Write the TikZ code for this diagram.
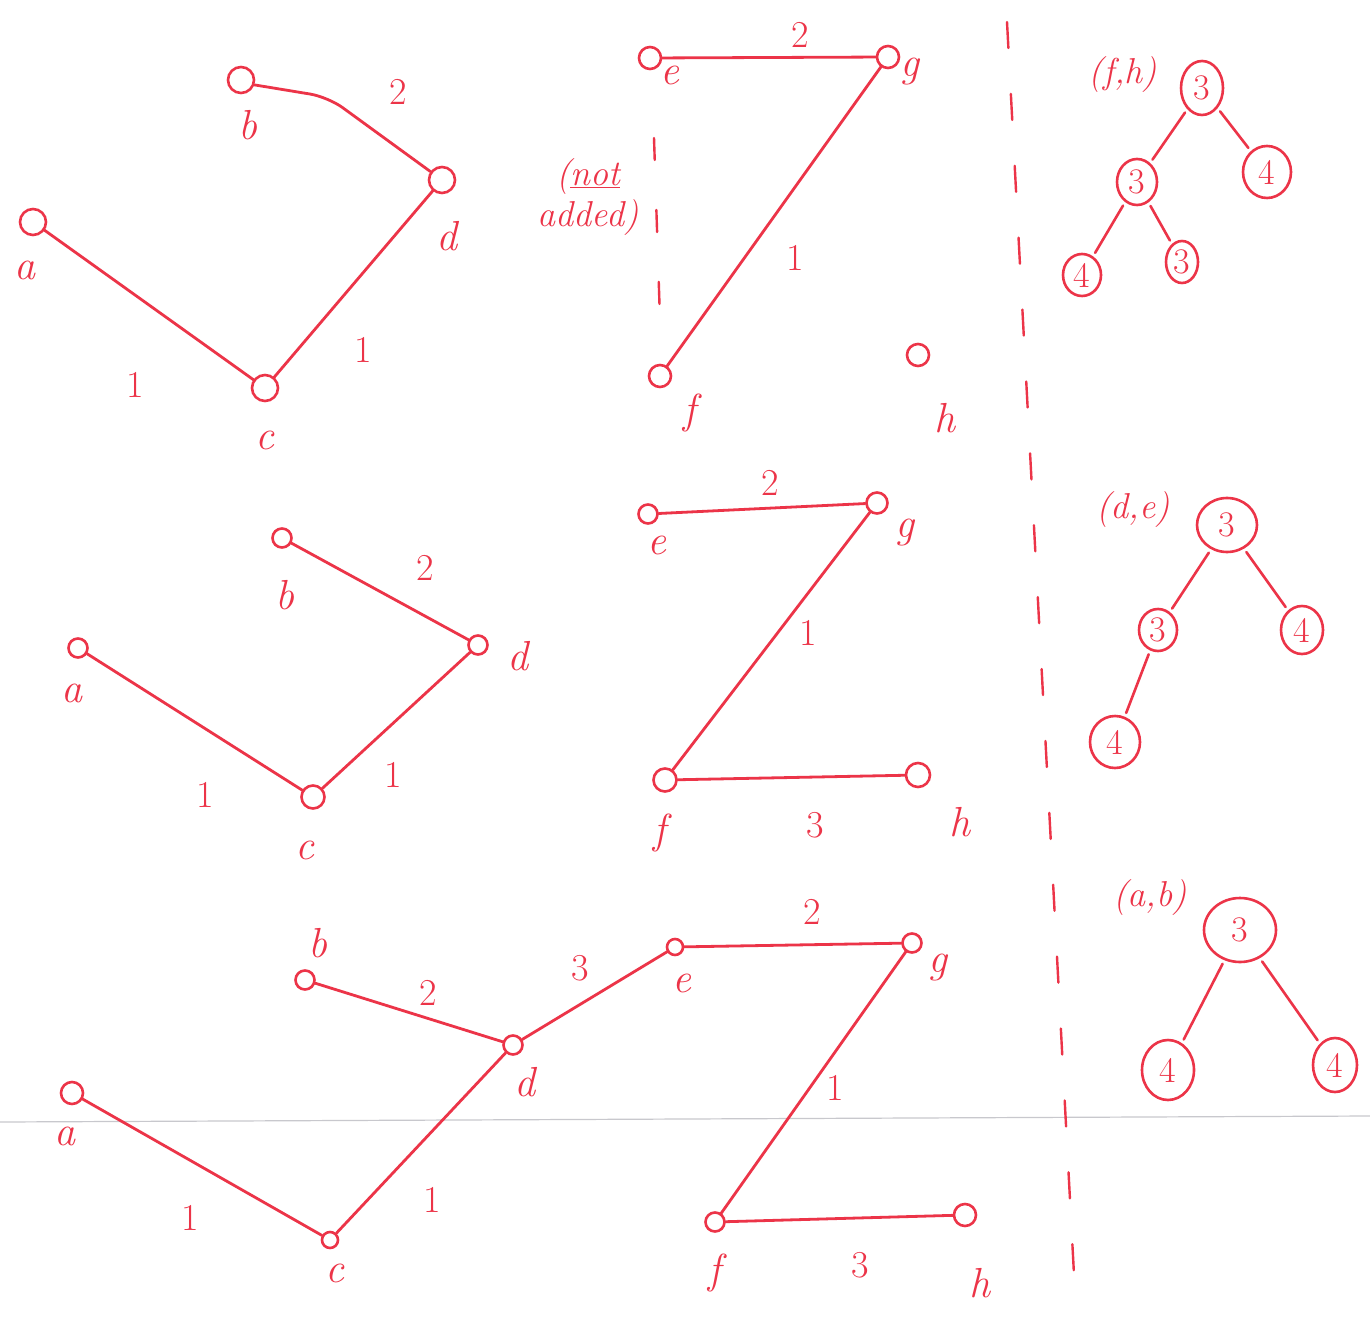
\documentclass[tikz,border=0pt]{standalone}
\usetikzlibrary{shapes.geometric}
\definecolor{inkred}{RGB}{236,52,72}
\definecolor{foldgray}{RGB}{200,200,205}
\tikzset{
  edge/.style={draw=inkred, line width=2.8pt, line cap=round},
  vtx/.style={circle, draw=inkred, line width=2.6pt, minimum size=26pt, inner sep=0pt},
  svtx/.style={circle, draw=inkred, line width=2.6pt, minimum size=19pt, inner sep=0pt},
  lbl/.style={text=inkred, font=\fontsize{42}{42}\selectfont\itshape, inner sep=0pt},
  wt/.style={text=inkred, font=\fontsize{38}{38}\selectfont, inner sep=0pt},
  note/.style={text=inkred, font=\fontsize{36}{36}\selectfont\itshape, inner sep=0pt, align=center},
  tnode/.style={ellipse, draw=inkred, line width=2.6pt, text=inkred, font=\fontsize{36}{36}\selectfont, inner sep=1pt},
  tedge/.style={draw=inkred, line width=2.6pt, line cap=round, shorten <=4pt, shorten >=4pt},
  divider/.style={draw=inkred, line width=2.4pt, line cap=round, dash pattern=on 26pt off 46pt}
}
\begin{document}
\begin{tikzpicture}[x=1pt,y=-1pt]
\useasboundingbox (0,0) rectangle (1370,1321);
\fill[white] (0,0) rectangle (1370,1321);
\draw[foldgray, line width=1.2pt] (0,1122) -- (1370,1116);

% ---------- dividers ----------
\coordinate (dv1) at (1007,22);
\coordinate (dv2) at (1076,1312);
\draw[divider] (dv1) -- (dv2);
\coordinate (sd1) at (654,138);
\coordinate (sd2) at (660,320);
\draw[divider, dash pattern=on 22pt off 50pt] (sd1) -- (sd2);

% ---------- panel 1 ----------
\node[vtx] (a1) at (33,222) {};
\node[vtx] (b1) at (241,80) {};
\node[vtx] (c1) at (265,388) {};
\node[vtx] (d1) at (442,180) {};
\node[vtx, minimum size=22pt] (e1) at (650,58) {};
\node[vtx, minimum size=22pt] (g1) at (888,57) {};
\node[vtx, minimum size=22pt] (f1) at (660,376) {};
\node[vtx, minimum size=22pt] (h1) at (918,355) {};
\coordinate (bdk) at (328,97);
\draw[edge, rounded corners=18pt] (b1.-20) -- (bdk) -- (d1);
\draw[edge] (a1) -- (c1);
\draw[edge] (c1) -- (d1);
\draw[edge] (e1) -- (g1);
\draw[edge] (g1) -- (f1);
\node[lbl] (la1) at (25,270) {a};
\node[lbl] (lb1) at (248,125) {b};
\node[lbl] (lc1) at (265,440) {c};
\node[lbl] (ld1) at (447,236) {d};
\node[lbl] (le1) at (670,75) {e};
\node[lbl] (lg1) at (910,72) {g};
\node[lbl] (lf1) at (690,413) {f};
\node[lbl] (lh1) at (945,418) {h};
\node[wt] (w1) at (398,92) {2};
\node[wt] (w2) at (135,385) {1};
\node[wt] (w3) at (363,350) {1};
\node[wt] (w4) at (800,35) {2};
\node[wt] (w5) at (795,258) {1};
\node[note] (na) at (588,197) {(\underline{not}\\[4pt]added)};

% tree 1
\node[note] (t1l) at (1123,75) {(f,h)};
\node[tnode, minimum width=42pt, minimum height=54pt] (t1r) at (1202,88) {3};
\node[tnode, minimum width=40pt, minimum height=46pt] (t1a) at (1137,182) {3};
\node[tnode, minimum width=48pt, minimum height=52pt] (t1b) at (1267,172) {4};
\node[tnode, minimum width=38pt, minimum height=42pt] (t1c) at (1082,275) {4};
\node[tnode, minimum width=32pt, minimum height=42pt] (t1d) at (1182,262) {3};
\draw[tedge] (t1r) -- (t1a);
\draw[tedge] (t1r) -- (t1b);
\draw[tedge] (t1a) -- (t1c);
\draw[tedge] (t1a) -- (t1d);

% ---------- panel 2 ----------
\node[svtx] (a2) at (78,648) {};
\node[svtx] (b2) at (282,538) {};
\node[svtx, minimum size=23pt] (c2) at (313,797) {};
\node[svtx] (d2) at (478,645) {};
\node[svtx] (e2) at (648,514) {};
\node[svtx, minimum size=21pt] (g2) at (877,503) {};
\node[svtx, minimum size=23pt] (f2) at (665,780) {};
\node[svtx, minimum size=24pt] (h2) at (918,775) {};
\draw[edge] (b2) -- (d2);
\draw[edge] (a2) -- (c2);
\draw[edge] (c2) -- (d2);
\draw[edge] (e2) -- (g2);
\draw[edge] (g2) -- (f2);
\draw[edge] (f2) -- (h2);
\node[lbl] (la2) at (72,693) {a};
\node[lbl] (lb2) at (285,595) {b};
\node[lbl] (lc2) at (305,850) {c};
\node[lbl] (ld2) at (518,656) {d};
\node[lbl] (le2) at (657,545) {e};
\node[lbl] (lg2) at (905,533) {g};
\node[lbl] (lf2) at (660,833) {f};
\node[lbl] (lh2) at (960,822) {h};
\node[wt] (w6) at (425,568) {2};
\node[wt] (w7) at (205,795) {1};
\node[wt] (w8) at (393,775) {1};
\node[wt] (w9) at (770,483) {2};
\node[wt] (w10) at (808,633) {1};
\node[wt] (w11) at (815,825) {3};

% tree 2
\node[note] (t2l) at (1133,510) {(d,e)};
\node[tnode, minimum width=60pt, minimum height=54pt] (t2r) at (1227,525) {3};
\node[tnode, minimum width=38pt, minimum height=42pt] (t2a) at (1158,630) {3};
\node[tnode, minimum width=42pt, minimum height=48pt] (t2b) at (1302,630) {4};
\node[tnode, minimum width=50pt, minimum height=52pt] (t2c) at (1115,742) {4};
\draw[tedge] (t2r) -- (t2a);
\draw[tedge] (t2r) -- (t2b);
\draw[tedge] (t2a) -- (t2c);

% ---------- panel 3 ----------
\node[svtx] (b3) at (305,980) {};
\node[svtx] (d3) at (513,1045) {};
\node[svtx, minimum size=16pt] (e3) at (675,947) {};
\node[svtx] (g3) at (912,943) {};
\node[svtx, minimum size=22pt] (a3) at (72,1093) {};
\node[svtx, minimum size=16pt] (c3) at (330,1240) {};
\node[svtx] (f3) at (715,1222) {};
\node[svtx, minimum size=22pt] (h3) at (965,1215) {};
\draw[edge] (b3) -- (d3);
\draw[edge] (d3) -- (e3);
\draw[edge] (e3) -- (g3);
\draw[edge] (a3) -- (c3);
\draw[edge] (c3) -- (d3);
\draw[edge] (g3) -- (f3);
\draw[edge] (f3) -- (h3);
\node[lbl] (lb3) at (318,943) {b};
\node[lbl] (ld3) at (525,1082) {d};
\node[lbl] (le3) at (682,983) {e};
\node[lbl] (lg3) at (938,968) {g};
\node[lbl] (la3) at (65,1136) {a};
\node[lbl] (lc3) at (335,1273) {c};
\node[lbl] (lf3) at (715,1273) {f};
\node[lbl] (lh3) at (980,1283) {h};
\node[wt] (w12) at (428,993) {2};
\node[wt] (w13) at (580,968) {3};
\node[wt] (w14) at (812,912) {2};
\node[wt] (w15) at (190,1218) {1};
\node[wt] (w16) at (432,1200) {1};
\node[wt] (w17) at (835,1088) {1};
\node[wt] (w18) at (860,1265) {3};

% tree 3
\node[note] (t3l) at (1150,898) {(a,b)};
\node[tnode, minimum width=72pt, minimum height=64pt] (t3r) at (1240,930) {3};
\node[tnode, minimum width=52pt, minimum height=60pt] (t3a) at (1168,1070) {4};
\node[tnode, minimum width=44pt, minimum height=54pt] (t3b) at (1335,1065) {4};
\draw[tedge] (t3r) -- (t3a);
\draw[tedge] (t3r) -- (t3b);
\end{tikzpicture}
\end{document}
